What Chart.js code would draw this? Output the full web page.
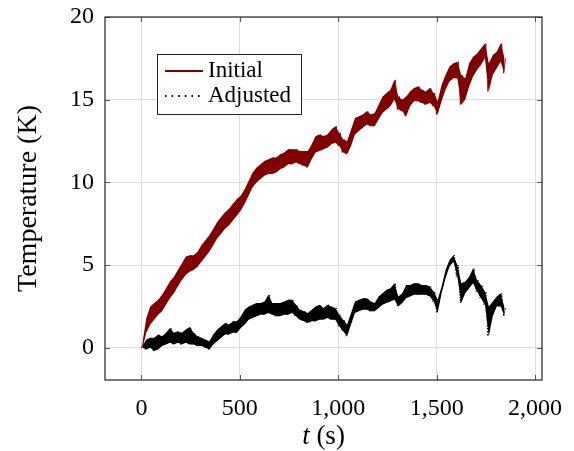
<!DOCTYPE html>
<html>
<head>
<meta charset="utf-8">
<script src="https://cdn.jsdelivr.net/npm/chart.js@4.4.0/dist/chart.umd.min.js"></script>
<style>
  html, body { margin: 0; padding: 0; background: #fff; }
  #wrap { width: 574px; height: 451px; }
</style>
</head>
<body>
<div id="wrap"><canvas id="myChart" width="574" height="451"></canvas></div>
<script>
const ctx = document.getElementById('myChart').getContext('2d');

const seriesNames = ['Initial', 'Adjusted'];
const xTicks = [0, 500, 1000, 1500, 2000];
const yTicks = [0, 5, 10, 15, 20];
const sampleStep = 20; // s between readings, low at t, high at t + 10

// noise band of each trace, every 20 s (0 .. 1840 s)
const initialLow = [
  0, 0.9, 1.4, 1.7, 2.0, 2.2, 2.6, 3.0, 3.3, 3.7,
  4.1, 4.4, 4.6, 4.7, 4.9, 5.2, 5.5, 5.8, 6.2, 6.6,
  6.9, 7.2, 7.4, 7.7, 8.0, 8.3, 8.7, 9.2, 9.7, 10.0,
  10.2, 10.4, 10.5, 10.5, 10.6, 10.8, 10.9, 11.1, 11.1, 11.2,
  11.1, 11.0, 10.9, 11.4, 11.8, 11.9, 12.0, 12.1, 12.3, 12.4,
  12.2, 11.8, 11.7, 12.2, 12.9, 13.1, 13.3, 13.5, 13.4, 13.4,
  13.8, 14.2, 14.4, 14.6, 15.0, 14.4, 14.3, 14.0, 14.6, 14.9,
  14.9, 14.8, 14.7, 14.8, 14.6, 14.1, 14.9, 15.6, 16.1, 16.3,
  16.3, 14.7, 15.0, 15.8, 16.4, 16.8, 17.1, 17.5, 15.5, 16.5,
  16.9, 17.3, 16.6
];
const initialHigh = [
  0.3, 1.8, 2.5, 2.7, 2.9, 3.2, 3.6, 4.0, 4.3, 4.7,
  5.1, 5.5, 5.6, 5.6, 5.8, 6.2, 6.5, 6.8, 7.2, 7.6,
  7.9, 8.2, 8.4, 8.7, 9.0, 9.2, 9.6, 10.1, 10.6, 10.9,
  11.1, 11.3, 11.4, 11.5, 11.5, 11.7, 11.8, 12.0, 12.0, 12.0,
  11.9, 11.9, 11.9, 12.3, 12.8, 12.9, 12.8, 12.9, 13.2, 13.4,
  13.0, 12.6, 12.5, 13.2, 13.9, 14.0, 14.1, 14.3, 14.1, 14.2,
  14.7, 15.2, 15.4, 15.6, 16.2, 15.2, 15.0, 15.2, 15.5, 15.7,
  15.8, 15.6, 15.5, 15.7, 15.4, 14.9, 15.9, 16.5, 17.0, 17.2,
  17.3, 16.5, 16.3, 17.2, 17.6, 17.8, 18.1, 18.4, 17.2, 17.7,
  17.9, 18.4, 17.5
];
const adjustedLow = [
  0, -0.1, 0.0, -0.2, -0.1, 0.1, 0.2, 0.3, 0.2, 0.3,
  0.2, 0.3, 0.2, 0.2, 0.1, 0.1, 0.0, -0.1, 0.2, 0.4,
  0.6, 0.8, 0.8, 0.9, 0.9, 1.2, 1.4, 1.7, 1.8, 1.9,
  2.0, 2.0, 2.1, 2.0, 1.9, 1.9, 2.0, 2.0, 2.1, 1.9,
  1.7, 1.6, 1.5, 1.6, 1.6, 1.7, 1.7, 1.8, 1.7, 1.7,
  1.3, 1.0, 0.7, 1.4, 2.1, 2.2, 2.3, 2.3, 2.2, 2.2,
  2.4, 2.6, 2.7, 2.8, 2.9, 2.5, 2.7, 3.0, 3.1, 3.2,
  3.2, 3.2, 3.2, 3.1, 2.8, 2.1, 3.3, 4.2, 4.9, 5.2,
  4.3, 2.7, 3.3, 3.6, 3.9, 3.4, 3.0, 2.6, 0.7, 1.9,
  2.5, 2.5, 1.9
];
const adjustedHigh = [
  0.1, 0.5, 0.6, 0.6, 0.8, 0.7, 0.9, 1.2, 0.9, 1.0,
  0.9, 1.1, 1.25, 0.9, 0.7, 0.6, 0.5, 0.4, 0.8, 1.1,
  1.3, 1.5, 1.4, 1.6, 1.6, 1.9, 2.3, 2.5, 2.6, 2.7,
  2.7, 2.8, 3.2, 2.7, 2.7, 2.7, 2.8, 2.9, 2.9, 2.6,
  2.3, 2.2, 2.1, 2.3, 2.5, 2.6, 2.4, 2.6, 2.5, 2.4,
  2.0, 1.7, 1.4, 2.1, 2.8, 2.9, 3.0, 3.0, 2.8, 2.7,
  3.1, 3.3, 3.5, 3.6, 3.9, 3.1, 3.3, 3.8, 3.8, 3.9,
  3.9, 3.8, 3.8, 3.7, 3.4, 2.9, 3.7, 4.7, 5.3, 5.6,
  5.0, 3.9, 4.0, 4.3, 4.8, 4.1, 3.8, 3.4, 2.5, 2.8,
  3.1, 3.3, 2.4
];

const serif = '"Liberation Serif", "Times New Roman", serif';

// alternate low / high readings so the trace zigzags through its noise band
function noisyTrace(low, high) {
  const pts = [];
  low.forEach((lo, i) => {
    pts.push({ x: i * sampleStep, y: lo });
    pts.push({ x: i * sampleStep + sampleStep / 2, y: high[i] });
  });
  return pts;
}
// one edge of the band, used for the filled core
function bandEdge(vals) {
  return vals.map((v, i) => ({ x: i * sampleStep + sampleStep / 4, y: v }));
}

const pgfFrame = {
  id: 'pgfFrame',
  afterDatasetsDraw(chart) {
    const { ctx, chartArea: a, scales: { x, y } } = chart;
    ctx.save();
    // ticks pointing inwards on all four sides
    ctx.strokeStyle = '#555';
    ctx.lineWidth = 1;
    ctx.beginPath();
    xTicks.forEach(v => {
      const px = Math.round(x.getPixelForValue(v)) + 0.5;
      ctx.moveTo(px, a.bottom); ctx.lineTo(px, a.bottom - 5);
      ctx.moveTo(px, a.top); ctx.lineTo(px, a.top + 5);
    });
    yTicks.forEach(v => {
      const py = Math.round(y.getPixelForValue(v)) + 0.5;
      ctx.moveTo(a.left, py); ctx.lineTo(a.left + 5, py);
      ctx.moveTo(a.right, py); ctx.lineTo(a.right - 5, py);
    });
    ctx.stroke();
    ctx.strokeStyle = '#222';
    ctx.lineWidth = 1.2;
    ctx.strokeRect(a.left, a.top, a.width, a.height);

    // legend box
    const bx = a.left + 52, by = a.top + 37, bw = 144, bh = 60;
    ctx.fillStyle = '#fff';
    ctx.fillRect(bx, by, bw, bh);
    ctx.strokeStyle = '#222';
    ctx.lineWidth = 1;
    ctx.strokeRect(bx + 0.5, by + 0.5, bw, bh);
    ctx.font = '23px ' + serif;
    ctx.textBaseline = 'middle';
    chart.data.datasets.filter(ds => ds.legendDash).forEach((ds, i) => {
      const ly = by + 17 + i * 25;
      ctx.beginPath();
      ctx.strokeStyle = ds.borderColor;
      ctx.lineWidth = ds.legendWidth;
      ctx.setLineDash(ds.legendDash);
      ctx.moveTo(bx + 8, ly);
      ctx.lineTo(bx + 46, ly);
      ctx.stroke();
      ctx.setLineDash([]);
      ctx.fillStyle = '#000';
      ctx.fillText(ds.label, bx + 51, ly);
    });
    ctx.restore();
  },
  afterDraw(chart) {
    const { ctx, chartArea: a } = chart;
    ctx.save();
    ctx.fillStyle = '#000';
    ctx.textBaseline = 'middle';
    const italic = 'italic 27px ' + serif, upright = '27px ' + serif;
    ctx.font = italic;
    const w1 = ctx.measureText('t').width;
    ctx.font = upright;
    const w2 = ctx.measureText(' (s)').width;
    const cx = (a.left + a.right) / 2 - (w1 + w2) / 2;
    ctx.font = italic;
    ctx.fillText('t', cx, 437);
    ctx.font = upright;
    ctx.fillText(' (s)', cx + w1, 437);
    ctx.restore();
  }
};

const bandStyle = { pointRadius: 0, borderWidth: 0, tension: 0 };

const myChart = new Chart(ctx, {
  type: 'line',
  data: {
    datasets: [{
      label: seriesNames[0],
      data: noisyTrace(initialLow, initialHigh),
      borderColor: '#800000',
      borderWidth: 0.8,
      borderJoinStyle: 'miter',
      pointRadius: 0,
      tension: 0,
      legendWidth: 2,
      legendDash: []
    }, {
      label: seriesNames[1],
      data: noisyTrace(adjustedLow, adjustedHigh),
      borderColor: '#000',
      borderWidth: 1,
      borderDash: [1.5, 1.5],
      borderJoinStyle: 'miter',
      pointRadius: 0,
      tension: 0,
      legendWidth: 2,
      legendDash: [1.6, 5]
    }, {
      label: 'initial low',
      data: bandEdge(initialLow),
      fill: false,
      ...bandStyle
    }, {
      label: 'initial high',
      data: bandEdge(initialHigh),
      fill: '-1',
      backgroundColor: '#800000',
      ...bandStyle
    }, {
      label: 'adjusted low',
      data: bandEdge(adjustedLow),
      fill: false,
      ...bandStyle
    }, {
      label: 'adjusted high',
      data: bandEdge(adjustedHigh),
      fill: '-1',
      backgroundColor: '#000',
      ...bandStyle
    }]
  },
  options: {
    responsive: false,
    animation: false,
    events: [],
    layout: { padding: { left: 0, right: 32, top: 17, bottom: 0 } },
    plugins: { legend: { display: false }, tooltip: { enabled: false } },
    scales: {
      x: {
        type: 'linear',
        min: -185,
        max: 2035,
        afterBuildTicks: s => { s.ticks = xTicks.map(v => ({ value: v })); },
        afterFit: s => { s.height = 71; },
        grid: { color: '#dedede', drawTicks: true, tickLength: 14, tickColor: 'rgba(0,0,0,0)' },
        border: { display: false },
        ticks: {
          padding: 0,
          color: '#000',
          font: { family: serif, size: 24 },
          callback: v => v.toLocaleString('en-US')
        }
      },
      y: {
        min: -1.95,
        max: 20,
        afterBuildTicks: s => { s.ticks = yTicks.map(v => ({ value: v })); },
        afterFit: s => { s.width = 105; },
        grid: { color: '#dedede', drawTicks: true, tickLength: 11, tickColor: 'rgba(0,0,0,0)' },
        border: { display: false },
        ticks: {
          padding: 0,
          color: '#000',
          font: { family: serif, size: 24 }
        },
        title: {
          display: true,
          text: 'Temperature (K)',
          color: '#000',
          font: { family: serif, size: 28 },
          padding: { top: 12, bottom: 0 }
        }
      }
    }
  },
  plugins: [pgfFrame]
});
</script>
</body>
</html>
